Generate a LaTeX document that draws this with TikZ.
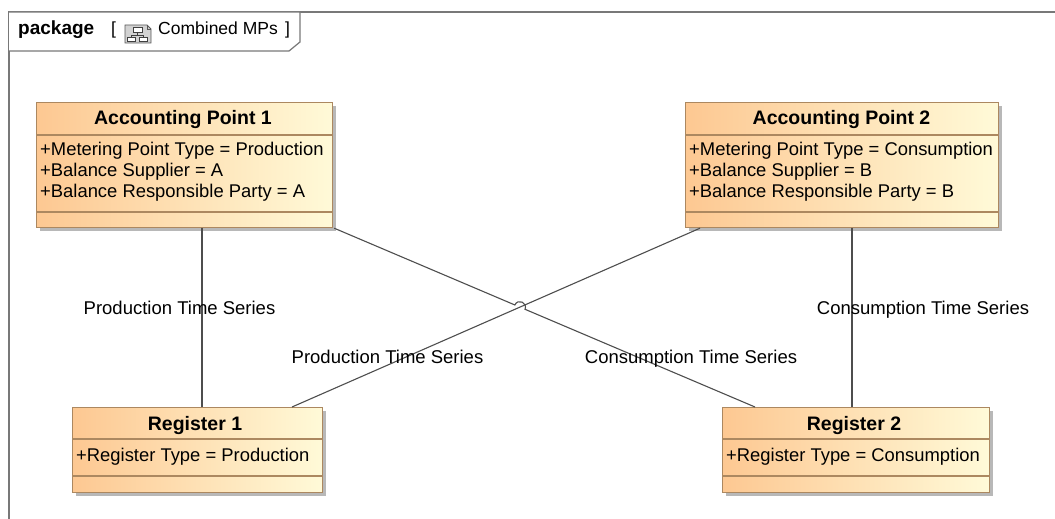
\documentclass[tikz,border=0pt]{standalone}
\usepackage{fontspec}
\setmainfont{Liberation Sans}
\usetikzlibrary{shadows,calc}
\definecolor{fillL}{RGB}{253,200,146}
\definecolor{fillR}{RGB}{255,250,216}
\definecolor{bord}{RGB}{172,136,96}
\definecolor{lineC}{RGB}{78,78,78}
\definecolor{frameC}{RGB}{120,120,120}
\begin{document}
\begin{tikzpicture}[x=1pt,y=-1pt,
  classbox/.style={draw=bord, line width=1.2pt, left color=fillL, right color=fillR,
    anchor=north west, inner sep=0pt,
    drop shadow={shadow xshift=3pt, shadow yshift=-3pt, fill=black, opacity=0.28}},
  divider/.style={draw=bord, line width=1.2pt},
  ctitle/.style={font=\fontsize{19.5}{21}\selectfont\bfseries, inner sep=0pt, anchor=base},
  attr/.style={font=\fontsize{18.4}{21}\selectfont, inner sep=0pt, anchor=base west},
  lbl/.style={font=\fontsize{18.5}{21}\selectfont, inner sep=0pt, anchor=base},
  conn/.style={draw=lineC, line width=1.1pt},
  hdr/.style={font=\fontsize{17.5}{21}\selectfont, inner sep=0pt, anchor=base west}]
\useasboundingbox[fill=white] (0,0) rectangle (1055,519);

% package frame
\draw[frameC, line width=1.2pt] (9,530) -- (9,12) -- (1060,12);
\draw[frameC, line width=1.2pt, fill=white] (9,12) -- (300,12) -- (300,42) -- (289,51) -- (9,51);
\node[hdr, font=\fontsize{19}{21}\selectfont\bfseries] (pkw) at (18,35) {package};
\node[hdr] (lb) at (111,35) {[};
% icon
\begin{scope}
  \draw[gray!70!black, line width=0.8pt, fill=gray!35] (125,25) -- (147,25) -- (151,29) -- (151,43) -- (125,43) -- cycle;
  \draw[gray!70!black, line width=0.8pt] (147,25) -- (147,29) -- (151,29);
  \draw[black!75, line width=0.8pt, fill=white] (133,27.5) rectangle (142,32.5);
  \draw[black!75, line width=0.8pt, fill=white] (127.5,37) rectangle (135.5,41.5);
  \draw[black!75, line width=0.8pt, fill=white] (139.5,37) rectangle (147.5,41.5);
  \draw[black!75, line width=0.8pt] (137.5,32.5) -- (137.5,35) (131.5,37) -- (131.5,35) -- (143.5,35) -- (143.5,37);
\end{scope}
\node[hdr] (pkn) at (158,35) {Combined MPs};
\node[hdr] (rb) at (285,35) {]};

% classes
\node[classbox, minimum width=296pt, minimum height=125pt] (ap1) at (36,102) {};
\node[classbox, minimum width=313pt, minimum height=125pt] (ap2) at (685,102) {};
\node[classbox, minimum width=250pt, minimum height=85pt] (r1) at (72,407) {};
\node[classbox, minimum width=267pt, minimum height=85pt] (r2) at (722,407) {};

\foreach \n in {ap1,ap2}{
  \draw[divider] ([yshift=-33pt]\n.north west) -- ([yshift=-33pt]\n.north east);
  \draw[divider] ([yshift=-110pt]\n.north west) -- ([yshift=-110pt]\n.north east);
}
\foreach \n in {r1,r2}{
  \draw[divider] ([yshift=-32pt]\n.north west) -- ([yshift=-32pt]\n.north east);
  \draw[divider] ([yshift=-69pt]\n.north west) -- ([yshift=-69pt]\n.north east);
}

\node[ctitle] (ap1t) at (183,124) {Accounting Point 1};
\node[attr] (ap1a) at (40,155) {+Metering Point Type = Production};
\node[attr] (ap1b) at (40,176.5) {+Balance Supplier = A};
\node[attr] (ap1c) at (40,197.5) {+Balance Responsible Party = A};

\node[ctitle] (ap2t) at (841.5,124) {Accounting Point 2};
\node[attr] (ap2a) at (689,155) {+Metering Point Type = Consumption};
\node[attr] (ap2b) at (689,176.5) {+Balance Supplier = B};
\node[attr] (ap2c) at (689,197.5) {+Balance Responsible Party = B};

\node[ctitle] (r1t) at (195,430) {Register 1};
\node[attr] (r1a) at (76,461) {+Register Type = Production};

\node[ctitle] (r2t) at (854,430) {Register 2};
\node[attr] (r2a) at (726,461) {+Register Type = Consumption};

% connector ends
\coordinate (e1) at ([xshift=166pt]ap1.south west);
\coordinate (e2) at ([xshift=130pt]r1.north west);
\coordinate (e3) at ([xshift=167pt]ap2.south west);
\coordinate (e4) at ([xshift=131pt]r2.north west);
\coordinate (d1) at ([xshift=1pt]ap1.south east);
\coordinate (d2) at ([xshift=33pt]r2.north west);
\coordinate (d3) at ([xshift=15pt]ap2.south west);
\coordinate (d4) at ([xshift=220pt]r1.north west);

\draw[conn] (e1) -- (e1 |- e2);
\draw[conn] (e3) -- (e3 |- e4);
\draw[conn] (d3) -- (d4);
\coordinate (X) at (intersection of d1--d2 and d3--d4);
\coordinate (h1) at ($(X)!5.5pt!(d1)$);
\coordinate (h2) at ($(X)!5.5pt!(d2)$);
\draw[conn] (d1) -- (h1) .. controls ($(h1)!7.3pt!90:(h2)$) and ($(h2)!7.3pt!-90:(h1)$) .. (h2) -- (d2);

% labels
\node[lbl] (l1) at (179.5,314) {Production Time Series};
\node[lbl] (l2) at (923,314) {Consumption Time Series};
\node[lbl] (l3) at (387.5,363) {Production Time Series};
\node[lbl] (l4) at (691,363) {Consumption Time Series};
\end{tikzpicture}
\end{document}
